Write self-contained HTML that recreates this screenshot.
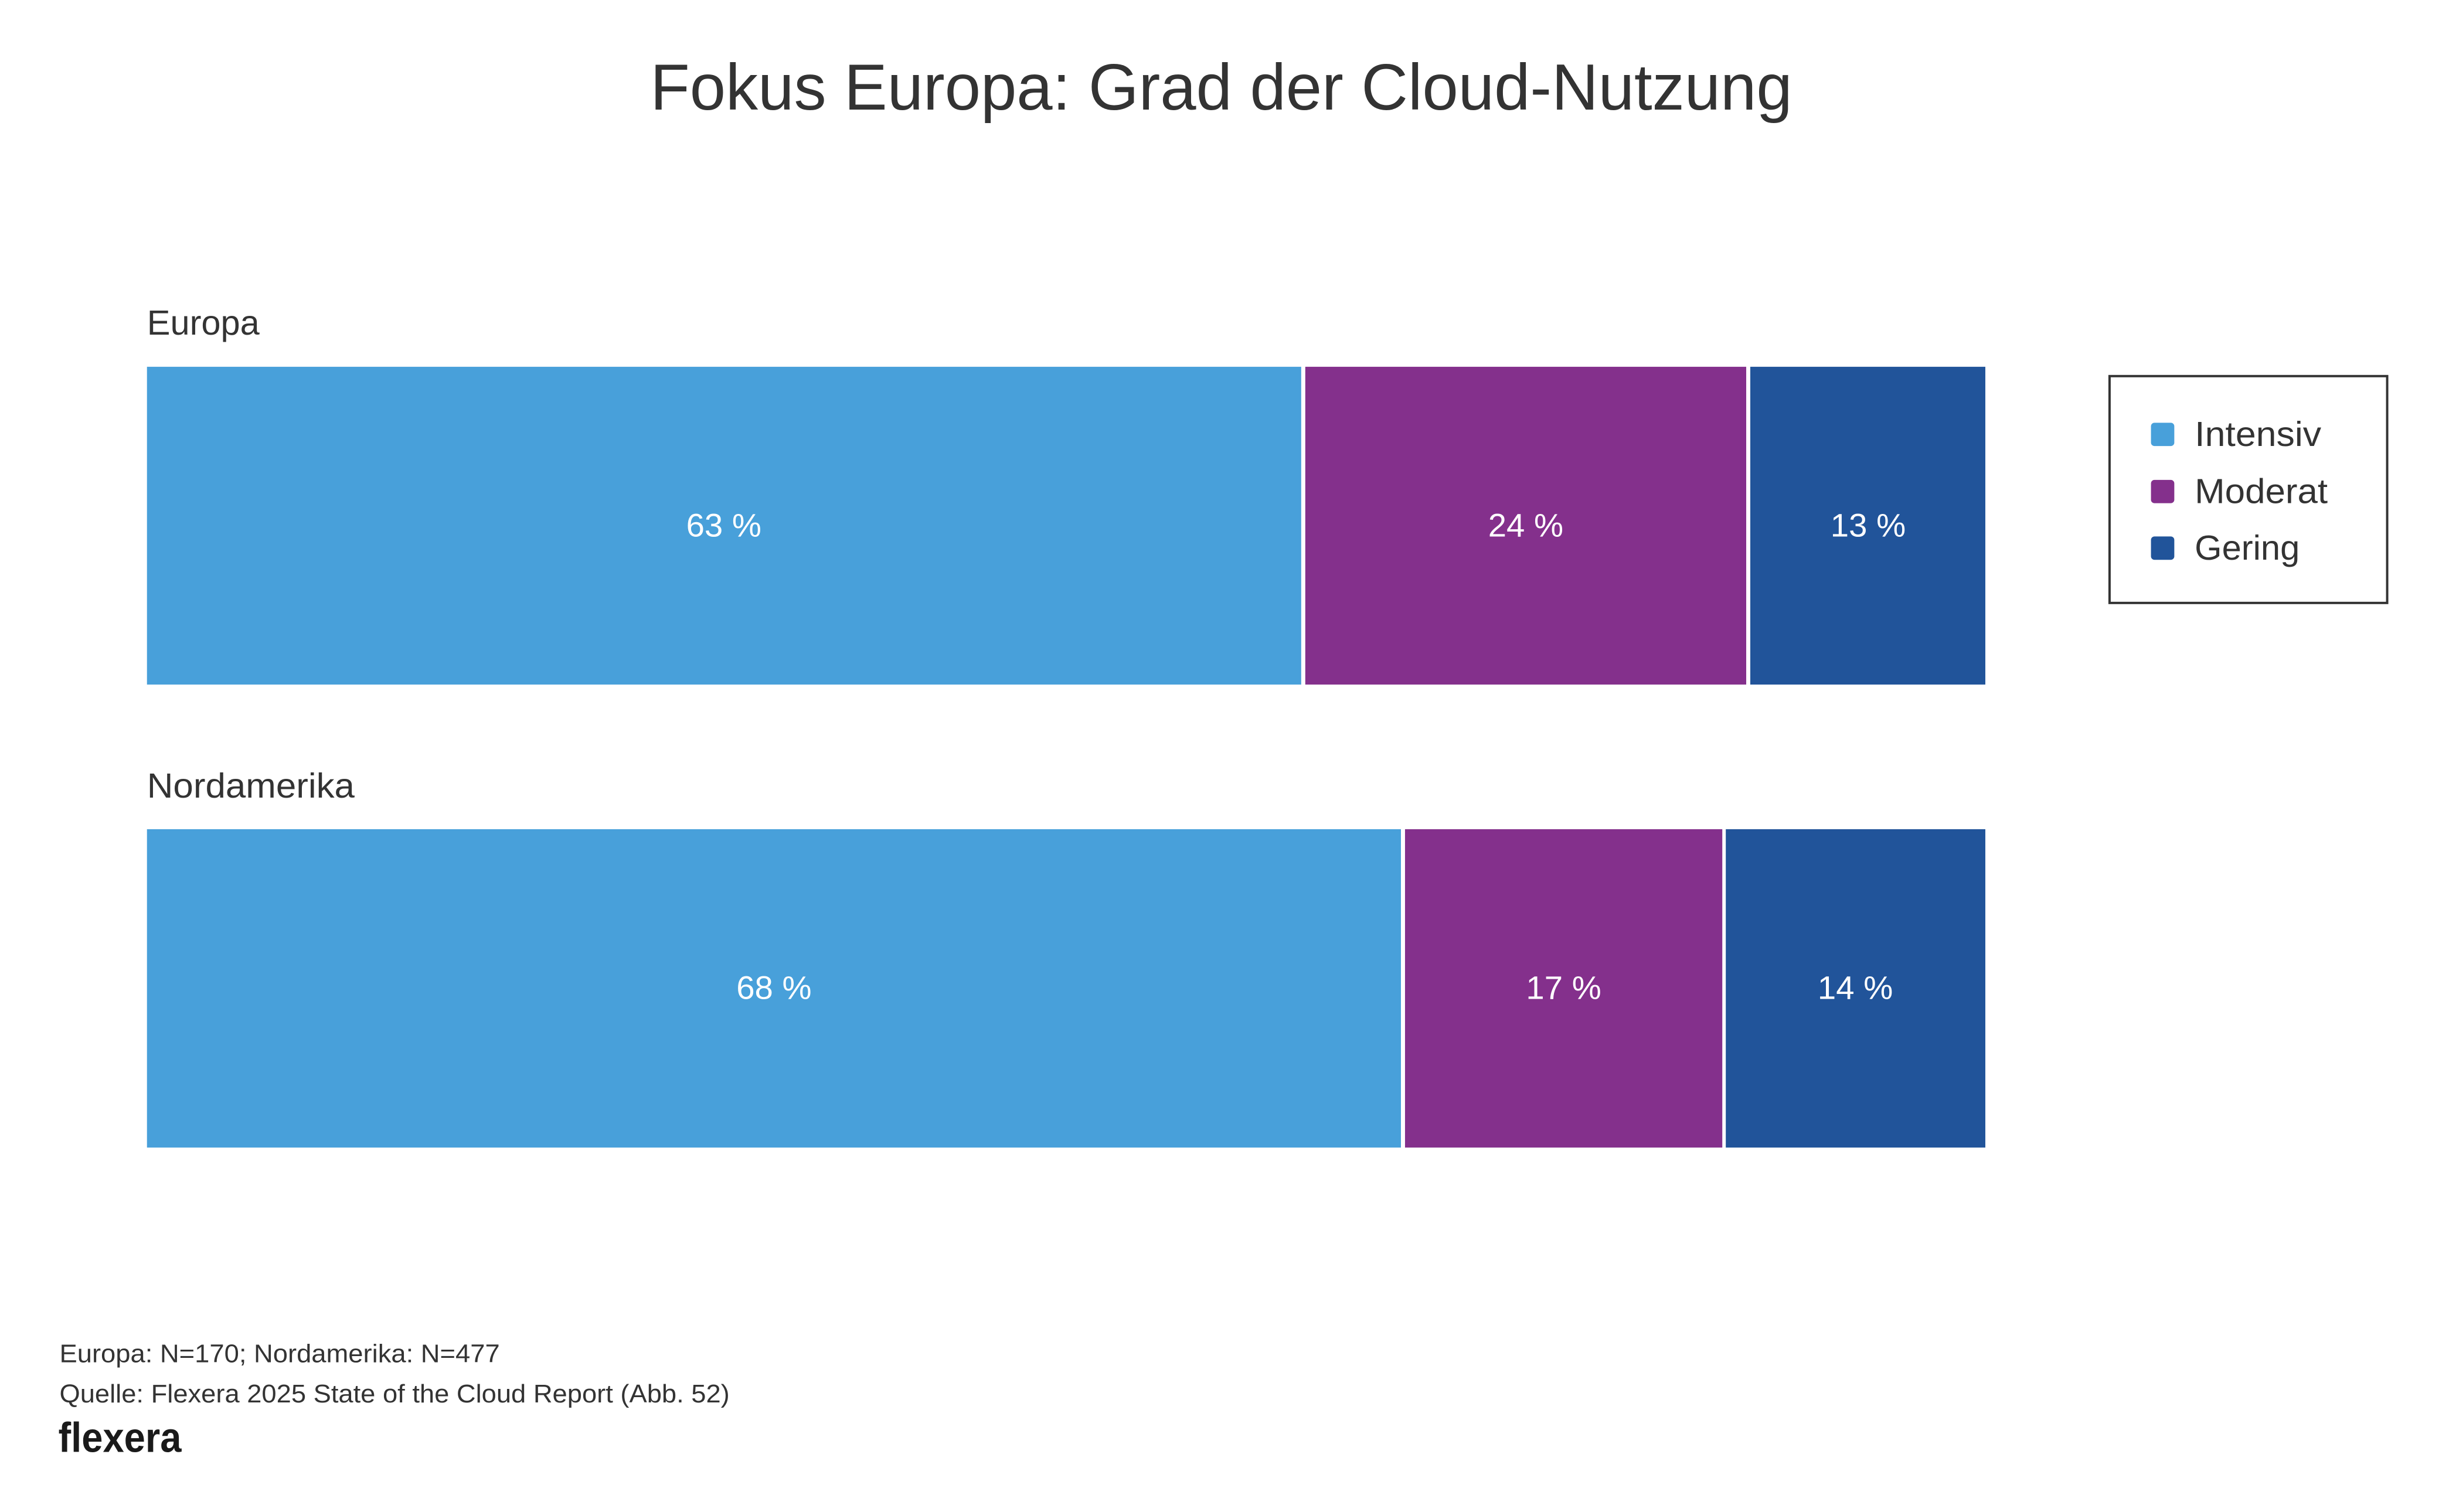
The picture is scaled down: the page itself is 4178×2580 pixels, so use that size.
<!DOCTYPE html>
<html><head><meta charset="utf-8"><style>
html,body{margin:0;padding:0;background:#fff;}
svg{display:block;}
text{font-family:"Liberation Sans",sans-serif;}
</style></head><body>
<svg width="4178" height="2580" viewBox="0 0 4178 2580" xmlns="http://www.w3.org/2000/svg">
<rect width="4178" height="2580" fill="#fff"/>
<g transform="scale(0.995)">
<text x="2094" y="188" font-size="112" fill="#333" text-anchor="middle" textLength="1958" lengthAdjust="spacingAndGlyphs">Fokus Europa: Grad der Cloud-Nutzung</text>

<text x="252" y="574" font-size="60" fill="#333" textLength="193" lengthAdjust="spacingAndGlyphs">Europa</text>
<rect x="252" y="629" width="1979" height="545" fill="#48A0DA"/>
<rect x="2238" y="629" width="756" height="545" fill="#84308C"/>
<rect x="3001" y="629" width="403" height="545" fill="#21549A"/>
<g fill="#fff" font-size="56" text-anchor="middle">
<text x="1241" y="920" textLength="129" lengthAdjust="spacingAndGlyphs">63 %</text>
<text x="2616" y="920" textLength="129" lengthAdjust="spacingAndGlyphs">24 %</text>
<text x="3203" y="920" textLength="129" lengthAdjust="spacingAndGlyphs">13 %</text>
</g>

<text x="252" y="1368" font-size="60" fill="#333" textLength="356" lengthAdjust="spacingAndGlyphs">Nordamerika</text>
<rect x="252" y="1422" width="2150" height="546" fill="#48A0DA"/>
<rect x="2409" y="1422" width="544" height="546" fill="#84308C"/>
<rect x="2959" y="1422" width="445" height="546" fill="#21549A"/>
<g fill="#fff" font-size="56" text-anchor="middle">
<text x="1327" y="1713" textLength="129" lengthAdjust="spacingAndGlyphs">68 %</text>
<text x="2681" y="1713" textLength="129" lengthAdjust="spacingAndGlyphs">17 %</text>
<text x="3181" y="1713" textLength="129" lengthAdjust="spacingAndGlyphs">14 %</text>
</g>

<rect x="3617" y="645" width="476" height="389" fill="#fff" stroke="#333" stroke-width="4"/>
<rect x="3688" y="725" width="40" height="40" rx="6" fill="#48A0DA"/>
<rect x="3688" y="823" width="40" height="40" rx="6" fill="#84308C"/>
<rect x="3688" y="920" width="40" height="40" rx="6" fill="#21549A"/>
<g fill="#333" font-size="60">
<text x="3763" y="765" textLength="217" lengthAdjust="spacingAndGlyphs">Intensiv</text>
<text x="3763" y="863" textLength="228" lengthAdjust="spacingAndGlyphs">Moderat</text>
<text x="3763" y="960" textLength="180" lengthAdjust="spacingAndGlyphs">Gering</text>
</g>

<g fill="#333" font-size="44">
<text x="102" y="2336" textLength="755" lengthAdjust="spacingAndGlyphs">Europa: N=170; Nordamerika: N=477</text>
<text x="102" y="2405" textLength="1149" lengthAdjust="spacingAndGlyphs">Quelle: Flexera 2025 State of the Cloud Report (Abb. 52)</text>
</g>
<text x="100" y="2490" font-size="72" font-weight="bold" fill="#1a1a1a" textLength="211" lengthAdjust="spacingAndGlyphs">flexera</text>
</g>
</svg>
</body></html>
